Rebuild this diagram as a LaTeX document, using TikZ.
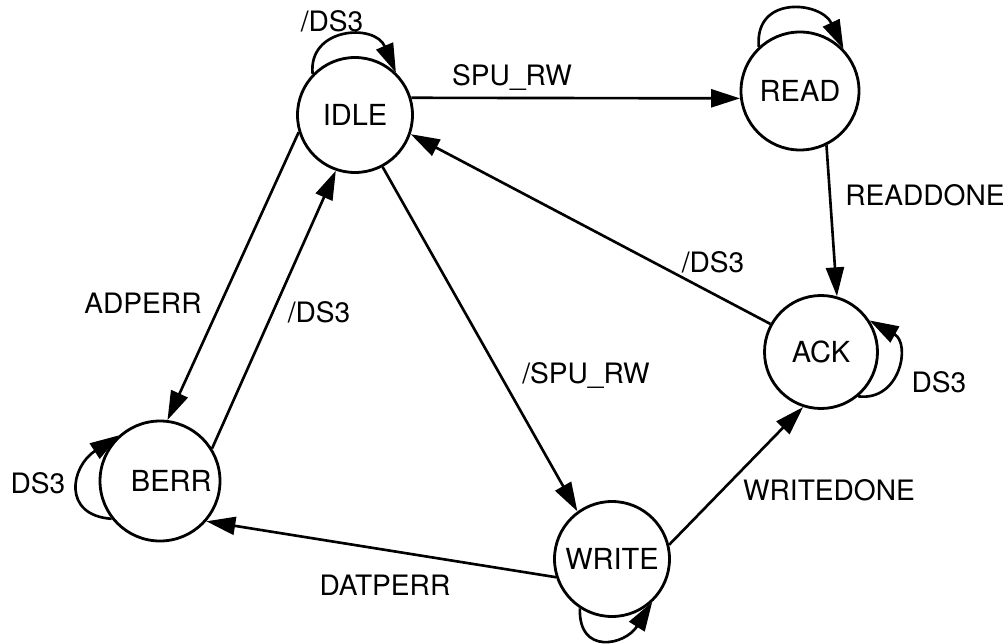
\documentclass[tikz,border=0pt]{standalone}
\usepackage{fontspec}
\setmainfont{TeX Gyre Heros}
\usetikzlibrary{arrows.meta}
\tikzset{%
  fsmstate/.style = {shape=circle, draw, line width=1.6pt,%
                     inner sep=0pt, minimum size=2.3cm,%
                     font=\fontsize{16.5}{19}\selectfont},%
  trans/.style    = {->, line width=1.5pt},%
  cond/.style     = {inner sep=0pt, font=\fontsize{16}{19}\selectfont}%
}

\begin{document}
\begin{tikzpicture}[>={Triangle[length=5.8mm,width=3.6mm]}]
	\useasboundingbox (0,0) rectangle (20.14,12.86);
	% states
	\node [fsmstate] (idle)  at (7.10,10.56) {IDLE};
	\node [fsmstate, minimum size=2.36cm] (read) at (16.00,11.04) {READ};
	\node [fsmstate, minimum size=2.26cm] (ack)  at (16.42,5.82) {ACK};
	\node [fsmstate, minimum size=2.4cm]  (berr) at (3.20,3.24) {\hspace{0.45cm}BERR};
	\node [fsmstate] (write) at (12.24,1.68) {WRITE};
	% transitions
	\draw [trans] (idle.17) -- (read.187);
	\draw [trans] (read.296) -- (ack.74);
	\draw [trans] (ack.151) -- (idle.341);
	\draw [trans] (idle.197) -- (berr.83);
	\draw [trans] (berr.32) -- (idle.251);
	\draw [trans] (idle.298) -- (write.126);
	\draw [trans] (write.14) -- (ack.252);
	\draw [trans] (write.198) -- (berr.319);
	% self loops
	\draw [trans] (idle.136) .. controls +(96:0.94) and +(113:1.08) .. (idle.46);
	\draw [trans] (read.133) .. controls +(95:1.05) and +(115:1.05) .. (read.44);
	\draw [trans] (ack.310) .. controls +(-7:0.85) and +(-29:0.95) .. (ack.33);
	\draw [trans] (berr.218) .. controls +(176:1.0) and +(213:1.15) .. (berr.132);
	\draw [trans] (write.237) .. controls +(268:0.94) and +(238:1.02) .. (write.313);
	% conditions
	\node [cond] (c-idle)  at (6.64,12.43) {/DS3};
	\node [cond] (c-spu)   at (10.24,11.32) {SPU\_RW};
	\node [cond] (c-rdone) at (18.50,8.96) {READDONE};
	\node [cond] (c-ack)   at (14.26,7.62) {/DS3};
	\node [cond] (c-adp)   at (2.86,6.80) {ADPERR};
	\node [cond] (c-berr)  at (6.38,6.62) {/DS3};
	\node [cond] (c-nspu)  at (11.72,5.36) {/SPU\_RW};
	\node [cond] (c-ds3a)  at (18.78,5.22) {DS3};
	\node [cond] (c-ds3b)  at (0.76,3.20) {DS3};
	\node [cond] (c-wdone) at (16.58,3.06) {WRITEDONE};
	\node [cond] (c-datp)  at (7.70,1.16) {DATPERR};
\end{tikzpicture}
\end{document}
